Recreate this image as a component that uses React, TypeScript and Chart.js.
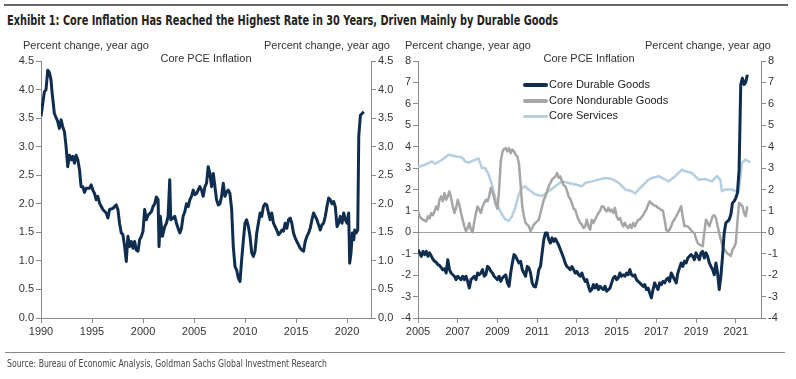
import React, { useEffect, useLayoutEffect, useRef } from "react";
import { Chart, registerables } from "chart.js";
Chart.register(...registerables);

// ---------- data ----------
const coreYears = [
  1990.0, 1990.33, 1990.49, 1990.66, 1990.82, 1990.98, 1991.08, 1991.31, 1991.64, 1991.8,
  1991.97, 1992.13, 1992.3, 1992.46, 1992.62, 1992.79, 1992.95, 1993.11, 1993.28, 1993.44,
  1993.61, 1993.77, 1993.93, 1994.1, 1994.26, 1994.43, 1994.75, 1994.92, 1995.08, 1995.25,
  1995.41, 1995.57, 1995.74, 1996.07, 1996.39, 1996.56, 1996.72, 1997.05, 1997.21, 1997.38,
  1997.54, 1997.7, 1997.87, 1998.03, 1998.2, 1998.36, 1998.52, 1998.69, 1998.85, 1999.02,
  1999.18, 1999.34, 1999.51, 1999.67, 1999.84, 2000.0, 2000.16, 2000.33, 2000.49, 2000.82,
  2000.98, 2001.15, 2001.31, 2001.48, 2001.57, 2001.7, 2001.9, 2002.13, 2002.3, 2002.46,
  2002.62, 2002.72, 2002.95, 2003.11, 2003.28, 2003.44, 2003.61, 2003.77, 2003.93, 2004.1,
  2004.26, 2004.43, 2004.59, 2004.75, 2004.92, 2005.08, 2005.25, 2005.57, 2005.74, 2005.9,
  2006.07, 2006.23, 2006.39, 2006.56, 2006.72, 2006.89, 2007.05, 2007.21, 2007.38, 2007.54,
  2007.7, 2007.87, 2008.03, 2008.2, 2008.36, 2008.52, 2008.69, 2008.85, 2009.02, 2009.18,
  2009.34, 2009.51, 2009.67, 2009.84, 2010.0, 2010.16, 2010.33, 2010.49, 2010.66, 2010.82,
  2010.98, 2011.15, 2011.31, 2011.48, 2011.64, 2011.8, 2011.97, 2012.13, 2012.3, 2012.46,
  2012.62, 2012.79, 2012.95, 2013.11, 2013.28, 2013.44, 2013.61, 2013.77, 2013.93, 2014.1,
  2014.26, 2014.43, 2014.59, 2014.75, 2014.92, 2015.08, 2015.25, 2015.41, 2015.57, 2015.74,
  2015.9, 2016.07, 2016.23, 2016.39, 2016.56, 2016.72, 2016.89, 2017.05, 2017.21, 2017.38,
  2017.54, 2017.7, 2017.87, 2018.03, 2018.2, 2018.36, 2018.52, 2018.69, 2018.85, 2019.02,
  2019.18, 2019.34, 2019.51, 2019.67, 2019.84, 2020.0, 2020.16, 2020.26, 2020.39, 2020.52,
  2020.66, 2020.75, 2020.89, 2021.05, 2021.15, 2021.31, 2021.48, 2021.64,
];
const coreValues = [
  3.53, 3.96, 4.0, 4.34, 4.3, 4.17, 3.96, 3.58, 3.44, 3.32,
  3.47, 3.35, 3.26, 3.0, 2.65, 2.85, 2.77, 2.83, 2.71, 2.85,
  2.77, 2.6, 2.3, 2.3, 2.2, 2.27, 2.27, 2.33, 2.24, 2.18,
  2.07, 2.13, 2.01, 1.9, 1.84, 1.75, 1.9, 1.92, 1.95, 1.98,
  1.9, 1.66, 1.49, 1.46, 1.25, 0.99, 1.43, 1.25, 1.34, 1.22,
  1.34, 1.19, 1.17, 1.37, 1.43, 1.52, 1.9, 1.72, 1.8, 1.86,
  1.95, 2.0, 2.12, 2.07, 1.25, 1.78, 1.43, 1.6, 1.66, 1.78,
  2.42, 1.72, 1.75, 1.78, 1.66, 1.57, 1.49, 1.57, 1.78, 1.86,
  2.0, 1.95, 2.07, 2.13, 2.24, 2.16, 2.18, 2.3, 2.24, 2.13,
  2.3, 2.36, 2.65, 2.53, 2.3, 2.53, 2.3, 2.07, 1.98, 2.0,
  2.13, 2.36, 2.13, 2.21, 2.24, 2.18, 1.9, 1.25, 0.9, 0.84,
  0.7, 0.64, 1.02, 1.37, 1.66, 1.72, 1.6, 1.43, 1.14, 1.08,
  1.17, 1.49, 1.66, 1.84, 1.78, 1.95, 2.0, 1.98, 1.84, 1.72,
  1.84, 1.66, 1.6, 1.54, 1.46, 1.49, 1.54, 1.52, 1.66, 1.57,
  1.72, 1.75, 1.66, 1.49, 1.4, 1.34, 1.28, 1.22, 1.19, 1.17,
  1.34, 1.43, 1.49, 1.57, 1.72, 1.84, 1.78, 1.72, 1.63, 1.54,
  1.63, 1.66, 1.78, 1.95, 2.1, 2.07, 2.0, 2.04, 1.95, 1.6,
  1.66, 1.78, 1.66, 1.84, 1.72, 1.66, 1.84, 0.96, 1.14, 1.49,
  1.37, 1.54, 1.49, 1.54, 3.18, 3.55, 3.58, 3.61,
];

// monthly series starting January 2005
const componentStartYear = 2005;
const durableValues = [
  -0.81, -0.96, -1.12, -0.89, -1.04, -0.89, -1.12, -0.96, -1.1, -1.25,
  -1.35, -1.4, -1.5, -1.55, -1.65, -1.75, -1.7, -1.9, -1.28, -1.74,
  -1.9, -1.98, -2.05, -2.21, -2.05, -2.13, -2.21, -2.05, -2.21, -2.05,
  -2.29, -2.6, -2.21, -2.13, -2.05, -2.21, -1.9, -1.98, -1.9, -1.74,
  -2.05, -1.98, -1.59, -1.66, -1.82, -1.9, -2.05, -2.13, -2.21, -2.05,
  -2.29, -2.13, -2.05, -1.98, -2.36, -2.52, -1.9, -1.43, -1.04, -1.12,
  -1.28, -1.43, -1.35, -1.74, -1.9, -2.05, -1.59, -1.66, -1.9, -2.36,
  -2.52, -2.55, -2.21, -1.74, -1.59, -0.96, -0.34, -0.03, -0.03, -0.34,
  -0.5, -0.26, -0.42, -0.3, -0.45, -0.6, -0.8, -1.0, -1.2, -1.45,
  -1.6, -1.66, -1.74, -1.6, -1.74, -1.9, -1.82, -1.98, -2.05, -1.9,
  -2.13, -2.29, -2.21, -2.52, -2.75, -2.67, -2.44, -2.6, -2.44, -2.67,
  -2.52, -2.6, -2.67, -2.52, -2.75, -2.67, -2.6, -2.36, -2.13, -2.05,
  -2.21, -2.13, -1.9, -2.05, -1.98, -2.05, -1.9, -1.98, -1.74, -1.98,
  -2.05, -1.98, -2.21, -2.29, -2.36, -2.44, -2.52, -2.44, -2.67, -2.6,
  -2.83, -3.06, -2.67, -2.36, -2.52, -2.67, -2.36, -2.44, -2.29, -2.36,
  -2.21, -2.13, -2.29, -1.9, -2.05, -2.21, -2.36, -1.9, -1.66, -1.43,
  -1.59, -1.35, -1.43, -1.2, -1.12, -1.04, -1.12, -1.28, -0.96, -1.12,
  -1.28, -0.96, -0.89, -1.2, -0.96, -1.12, -1.43, -1.59, -1.74, -1.98,
  -1.43, -1.9, -2.67, -2.05, -1.12, -0.03, 0.44, 0.51, 0.59, 0.82,
  1.37, 1.45, 1.6, 1.84, 2.9, 6.9, 7.2, 6.9, 7.0, 7.36,
];
const nondurableValues = [
  0.98, 0.75, 0.65, 0.59, 0.55, 0.51, 0.75, 0.65, 0.9, 0.8,
  0.98, 1.21, 1.06, 1.52, 1.68, 1.45, 1.84, 1.52, 1.68, 1.91,
  1.6, 1.21, 0.9, 1.14, 1.52, 1.29, 0.9, 0.59, 0.28, 0.05,
  0.2, 0.44, 0.12, 0.0, 0.5, 0.9, 1.21, 1.06, 0.9, 1.21,
  1.37, 1.52, 1.45, 1.68, 2.08, 1.9, 1.6, 1.3, 1.1, 2.0,
  3.3, 3.75, 3.9, 3.93, 3.78, 3.93, 3.7, 3.86, 3.78, 3.62,
  3.55, 3.2, 2.2, 1.21, 0.75, 0.44, 0.36, 0.28, 0.05, 0.2,
  0.36, 0.44, 0.51, 0.59, 0.9, 1.21, 1.52, 1.68, 1.91, 2.15,
  2.3, 2.46, 2.54, 2.61, 2.77, 2.54, 2.61, 2.38, 2.2, 2.15,
  1.95, 1.68, 1.55, 1.37, 1.1, 1.06, 0.8, 0.59, 0.44, 0.36,
  0.2, 0.28, 0.59, 0.28, 0.12, 0.59, 0.44, 0.6, 0.75, 0.9,
  1.0, 1.21, 1.21, 1.06, 0.98, 1.14, 0.98, 1.06, 0.9, 1.14,
  0.75, 0.59, 0.67, 0.44, 0.28, 0.44, 0.28, 0.2, 0.36, 0.2,
  0.44, 0.28, 0.44, 0.59, 0.6, 0.7, 0.8, 0.95, 1.07, 1.3,
  1.45, 1.35, 1.3, 1.25, 1.22, 1.15, 1.1, 1.05, 1.0, 0.6,
  0.12, 0.05, 0.12, 0.3, 0.5, 0.6, 0.75, 0.9, 1.05, 1.22,
  0.7, 0.28, 0.3, 0.28, 0.2, 0.1, 0.0, -0.03, -0.3, -0.5,
  -0.58, -0.6, -0.65, 0.0, 0.59, 0.45, 0.28, 0.5, 0.75, 0.8,
  0.67, 0.3, -0.03, -0.35, -0.65, -0.8, -0.9, -1.0, -1.04, -1.1,
  -0.81, -0.7, -0.5, 0.5, 1.37, 1.3, 1.22, 0.9, 0.75, 1.22,
];
const servicesYears = [
  2005.0, 2005.37, 2005.7, 2005.87, 2006.21, 2006.54, 2006.88, 2007.21, 2007.38, 2007.55,
  2007.89, 2008.05, 2008.22, 2008.39, 2008.56, 2008.72, 2008.89, 2009.06, 2009.23, 2009.4,
  2009.56, 2009.73, 2009.9, 2010.07, 2010.23, 2010.4, 2010.57, 2010.91, 2011.24, 2011.58,
  2011.91, 2012.25, 2012.58, 2012.92, 2013.26, 2013.42, 2013.76, 2014.09, 2014.43, 2014.77,
  2015.1, 2015.44, 2015.77, 2015.94, 2016.11, 2016.44, 2016.61, 2016.78, 2017.11, 2017.45,
  2017.62, 2017.95, 2018.29, 2018.46, 2018.79, 2019.13, 2019.46, 2019.8, 2020.05, 2020.22,
  2020.3, 2020.47, 2020.81, 2021.14, 2021.22, 2021.31, 2021.48, 2021.64, 2021.73,
];
const servicesValues = [
  3.05, 3.16, 3.31, 3.2, 3.39, 3.62, 3.55, 3.5, 3.31, 3.25,
  3.39, 3.45, 3.0, 3.0, 2.69, 2.23, 1.6, 1.15, 0.84, 0.6,
  0.53, 0.75, 1.15, 1.77, 2.08, 2.15, 2.0, 1.77, 1.7, 1.92,
  2.15, 2.39, 2.3, 2.23, 2.15, 2.31, 2.38, 2.46, 2.54, 2.49,
  2.31, 2.0, 1.92, 1.81, 2.0, 2.31, 2.46, 2.54, 2.62, 2.46,
  2.38, 2.62, 2.93, 2.85, 2.77, 2.46, 2.49, 2.38, 2.62, 2.46,
  1.92, 2.0, 2.0, 1.87, 2.46, 3.24, 3.4, 3.32, 3.27,
];

const leftYearTicks = [1990, 1995, 2000, 2005, 2010, 2015, 2020];
const leftValueTicks = [0, 0.5, 1, 1.5, 2, 2.5, 3, 3.5, 4, 4.5];
const rightYearTicks = [2005, 2007, 2009, 2011, 2013, 2015, 2017, 2019, 2021];
const rightValueTicks = [-4, -3, -2, -1, 0, 1, 2, 3, 4, 5, 6, 7, 8];

const seriesNames = ["Core Durable Goods", "Core Nondurable Goods", "Core Services"];
const TITLE = "Exhibit 1: Core Inflation Has Reached the Highest Rate in 30 Years, Driven Mainly by Durable Goods";
const SOURCE = "Source: Bureau of Economic Analysis, Goldman Sachs Global Investment Research";
const AXIS_TITLE = "Percent change, year ago";
const PANEL_TITLE = "Core PCE Inflation";

// ---------- style ----------
const FONT = "'Liberation Sans', Arial, Helvetica, sans-serif";
const NARROW = "'Liberation Sans Narrow', 'DejaVu Sans Condensed', 'Roboto Condensed', 'Liberation Sans', sans-serif";
const NAVY = "#0f2d4e";
const GRAY = "#a6a6a6";
const LIGHT = "#b5cee1";
const AXIS = "#8a8a8a";
const TXT = "#333333";

const pairs = (xs: number[], ys: number[]) =>
  xs.slice(0, Math.min(xs.length, ys.length)).map((x, i) => ({ x, y: ys[i] }));
const monthly = (start: number, ys: number[]) => ys.map((y, i) => ({ x: start + i / 12, y }));

function yAxis(position: string, min: number, max: number, values: number[], fmt: (v: number) => string, width: number, zero = false) {
  return {
    type: "linear",
    position,
    min,
    max,
    afterBuildTicks: (s: any) => {
      s.ticks = values.map((v) => ({ value: v }));
    },
    afterFit: (s: any) => {
      s.width = width;
    },
    ticks: { autoSkip: false, color: TXT, padding: 2, font: { family: FONT, size: 11 }, callback: (v: any) => fmt(Number(v)) },
    grid: zero
      ? {
          drawOnChartArea: true,
          tickLength: 5,
          lineWidth: 1,
          color: (c: any) => (c.tick && c.tick.value === 0 ? "#a0a0a0" : "rgba(0,0,0,0)"),
          tickColor: AXIS,
        }
      : { drawOnChartArea: false, tickLength: 5, color: AXIS },
    border: { display: true, color: AXIS, width: 1 },
  };
}

function xAxis(min: number, max: number, values: number[]) {
  return {
    type: "linear",
    position: "bottom",
    min,
    max,
    afterBuildTicks: (s: any) => {
      s.ticks = values.map((v) => ({ value: v }));
    },
    afterFit: (s: any) => {
      s.height = 25;
    },
    ticks: { autoSkip: false, maxRotation: 0, color: TXT, padding: 2, font: { family: FONT, size: 11 }, callback: (v: any) => String(v) },
    grid: { drawOnChartArea: false, tickLength: 5, color: AXIS },
    border: { display: true, color: AXIS, width: 1 },
  };
}

function baseOptions(padding: any, scales: any) {
  return {
    animation: false,
    responsive: false,
    events: [],
    layout: { padding },
    plugins: { legend: { display: false }, tooltip: { enabled: false }, title: { display: false } },
    scales,
  } as any;
}

function FitText({ text, left, top, width, style }: any) {
  const ref = useRef<HTMLSpanElement>(null);
  useLayoutEffect(() => {
    const el = ref.current;
    if (!el) return;
    el.style.transform = "none";
    const w = el.getBoundingClientRect().width;
    if (w > 0) el.style.transform = `scaleX(${width / w})`;
  }, [text, width]);
  return (
    <div style={{ position: "absolute", left, top, whiteSpace: "nowrap", ...style }}>
      <span ref={ref} style={{ display: "inline-block", transformOrigin: "0 0" }}>
        {text}
      </span>
    </div>
  );
}

const label = (text: string, pos: any, align: "left" | "right" | "center" = "left") => {
  const style: any = {
    position: "absolute",
    top: pos.top,
    fontFamily: FONT,
    fontSize: 11,
    lineHeight: "13px",
    color: TXT,
    whiteSpace: "nowrap",
  };
  if (align === "left") style.left = pos.x;
  if (align === "right") {
    style.right = 796 - pos.x;
    style.textAlign = "right";
  }
  if (align === "center") {
    style.left = pos.x - 100;
    style.width = 200;
    style.textAlign = "center";
  }
  return <div style={style}>{text}</div>;
};

export default function App() {
  const leftRef = useRef<HTMLCanvasElement>(null);
  const rightRef = useRef<HTMLCanvasElement>(null);

  useEffect(() => {
    const charts: Chart[] = [];
    if (leftRef.current) {
      charts.push(
        new Chart(leftRef.current, {
          type: "line",
          data: {
            datasets: [
              {
                data: pairs(coreYears, coreValues),
                borderColor: NAVY,
                borderWidth: 3,
                pointRadius: 0,
                tension: 0,
                fill: false,
                borderJoinStyle: "round",
              } as any,
            ],
          },
          options: baseOptions(
            { left: 0, right: 395, top: 61, bottom: 36 },
            {
              x: xAxis(1990, 2022.35, leftYearTicks),
              y: yAxis("left", 0, 4.5, leftValueTicks, (v) => v.toFixed(1), 41),
              y2: yAxis("right", 0, 4.5, leftValueTicks, (v) => v.toFixed(1), 30),
            }
          ),
        })
      );
    }
    if (rightRef.current) {
      charts.push(
        new Chart(rightRef.current, {
          type: "line",
          data: {
            datasets: [
              {
                label: seriesNames[0],
                data: monthly(componentStartYear, durableValues),
                borderColor: NAVY,
                borderWidth: 3,
                pointRadius: 0,
                tension: 0,
                borderJoinStyle: "round",
              },
              {
                label: seriesNames[1],
                data: monthly(componentStartYear, nondurableValues),
                borderColor: GRAY,
                borderWidth: 2.5,
                pointRadius: 0,
                tension: 0,
                borderJoinStyle: "round",
              },
              {
                label: seriesNames[2],
                data: pairs(servicesYears, servicesValues),
                borderColor: LIGHT,
                borderWidth: 2.5,
                pointRadius: 0,
                tension: 0,
                borderJoinStyle: "round",
              },
            ] as any,
          },
          options: baseOptions(
            { left: 388, right: 5, top: 61, bottom: 36 },
            {
              x: xAxis(2005, 2022.27, rightYearTicks),
              y: yAxis("left", -4, 8, rightValueTicks, (v) => String(v), 30, true),
              y2: yAxis("right", -4, 8, rightValueTicks, (v) => String(v), 30),
            }
          ),
        })
      );
    }
    return () => charts.forEach((c) => c.destroy());
  }, []);

  const legendColors = [NAVY, GRAY, LIGHT];
  const legendWidths = [4, 4, 3];
  const legendRows = [85, 101, 116];

  return (
    <div
      style={{
        position: "absolute",
        left: 0,
        top: 0,
        width: 796,
        height: 379,
        background: "#ffffff",
        overflow: "hidden",
        fontFamily: FONT,
      }}
    >
      <div style={{ position: "absolute", left: 4, top: 4, width: 784, height: 2, background: "#666" }} />
      <FitText
        text={TITLE}
        left={7}
        top={12}
        width={551}
        style={{ fontFamily: NARROW, fontWeight: 700, fontSize: 14, lineHeight: "16px", color: "#222" }}
      />
      <canvas ref={leftRef} width={796} height={379} style={{ position: "absolute", left: 0, top: 0 }} />
      <canvas ref={rightRef} width={796} height={379} style={{ position: "absolute", left: 0, top: 0 }} />

      {label(AXIS_TITLE, { x: 23, top: 39 }, "left")}
      {label(AXIS_TITLE, { x: 390, top: 39 }, "right")}
      {label(PANEL_TITLE, { x: 206, top: 52 }, "center")}
      {label(AXIS_TITLE, { x: 405, top: 39 }, "left")}
      {label(AXIS_TITLE, { x: 771, top: 39 }, "right")}
      {label(PANEL_TITLE, { x: 589, top: 52 }, "center")}

      {seriesNames.map((name, i) => (
        <React.Fragment key={name}>
          <div
            style={{
              position: "absolute",
              left: 523,
              top: legendRows[i] - legendWidths[i] / 2,
              width: 25,
              height: legendWidths[i],
              background: legendColors[i],
              borderRadius: 2,
            }}
          />
          <div
            style={{
              position: "absolute",
              left: 549,
              top: legendRows[i] - 7,
              fontFamily: FONT,
              fontSize: 11,
              lineHeight: "13px",
              color: "#222",
              whiteSpace: "nowrap",
            }}
          >
            {name}
          </div>
        </React.Fragment>
      ))}

      <div style={{ position: "absolute", left: 5, top: 352, width: 780, height: 1, background: "#888" }} />
      <FitText
        text={SOURCE}
        left={7}
        top={358}
        width={320}
        style={{ fontFamily: NARROW, fontSize: 10, lineHeight: "12px", color: "#444" }}
      />
    </div>
  );
}
